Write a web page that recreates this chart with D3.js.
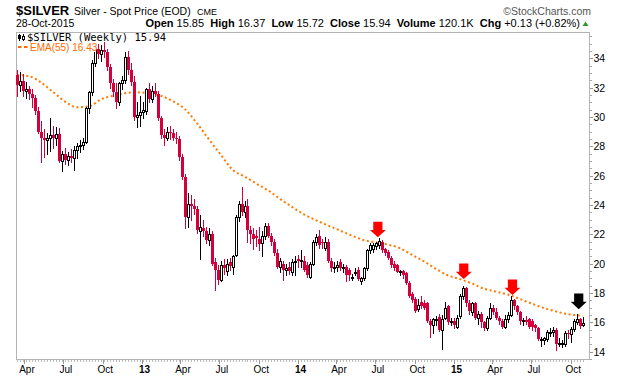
<!DOCTYPE html>
<html>
<head>
<meta charset="utf-8">
<script src="https://cdn.jsdelivr.net/npm/d3@7/dist/d3.min.js"></script>
<style>
  body { margin: 0; background: #fff; }
  svg { display: block; font-family: "Liberation Sans", Arial, sans-serif; }
  text { white-space: pre; }
</style>
</head>
<body>
<svg id="chart" width="620" height="376"></svg>
<script>
// weekly bars, one per Friday from mid-March 2012 to end of October 2015
const weeks = d3.timeFriday.range(new Date(2012, 2, 16), new Date(2015, 9, 31));

const opens = [
  32.85, 32.20, 32.45, 31.75, 31.90, 31.60, 31.30, 30.40, 29.00, 28.60,
  28.40, 28.60, 28.75, 28.60, 28.85, 27.00, 27.50, 27.10, 27.35, 27.20,
  27.75, 28.00, 28.10, 28.30, 30.60, 31.70, 33.70, 34.60, 34.30, 34.55,
  34.40, 33.40, 32.30, 31.70, 31.00, 32.30, 32.50, 34.10, 33.20, 32.40,
  30.00, 30.15, 30.35, 30.40, 31.90, 31.25, 31.80, 31.55, 29.90, 28.80,
  28.60, 29.00, 28.90, 28.60, 28.50, 27.30, 25.90, 23.20, 24.10, 23.90,
  23.70, 22.20, 22.45, 22.20, 21.60, 22.00, 20.10, 19.60, 18.90, 19.90,
  19.50, 20.10, 19.80, 20.60, 23.20, 24.10, 23.50, 23.90, 22.30, 22.00,
  21.90, 21.70, 21.40, 21.90, 22.60, 21.90, 21.50, 20.70, 19.80, 20.00,
  19.60, 19.80, 19.40, 20.10, 20.30, 20.15, 20.20, 19.90, 19.10, 20.00,
  21.50, 21.90, 21.50, 21.10, 21.50, 20.20, 19.75, 19.80, 20.10, 19.70,
  19.80, 19.60, 19.00, 19.40, 19.60, 18.80, 19.00, 19.70, 20.90, 21.00,
  21.20, 21.30, 21.50, 21.00, 20.80, 20.40, 20.00, 19.90, 19.40, 19.50,
  19.35, 18.70, 17.90, 17.60, 16.90, 17.40, 17.30, 17.30, 16.10, 15.80,
  16.20, 16.35, 15.50, 16.30, 17.10, 16.00, 16.10, 15.70, 16.40, 17.80,
  18.35, 17.30, 16.70, 17.30, 16.30, 16.60, 16.00, 15.60, 16.30, 17.00,
  16.70, 16.30, 16.10, 15.70, 16.20, 16.50, 17.50, 17.10, 16.70, 16.10,
  16.15, 16.20, 16.10, 15.80, 15.60, 14.80, 14.80, 14.85, 15.30, 15.35,
  15.50, 14.50, 14.55, 14.50, 15.30, 15.20, 15.55, 16.05, 16.20, 15.85
];
const highs = [
  33.20, 33.10, 32.90, 32.40, 32.10, 31.90, 31.50, 30.70, 29.70, 29.20,
  28.90, 29.90, 29.40, 29.30, 29.25, 27.70, 27.90, 27.60, 27.80, 28.00,
  28.20, 28.40, 28.60, 30.70, 31.80, 33.90, 34.80, 35.00, 34.90, 35.40,
  34.60, 33.60, 32.60, 32.30, 32.40, 32.80, 34.40, 34.50, 33.70, 32.80,
  31.00, 31.40, 31.00, 32.00, 32.30, 32.10, 32.30, 31.80, 30.10, 29.20,
  29.30, 29.40, 29.20, 29.00, 28.70, 27.50, 26.10, 24.80, 24.70, 24.40,
  23.90, 23.30, 23.00, 22.50, 22.40, 22.20, 20.40, 19.90, 20.20, 20.30,
  20.30, 20.40, 20.60, 23.30, 24.30, 25.20, 24.30, 24.40, 22.60, 22.40,
  22.30, 22.50, 22.20, 22.80, 22.80, 22.10, 21.70, 21.00, 20.40, 20.20,
  20.00, 20.10, 20.30, 20.50, 20.60, 20.90, 20.50, 20.10, 20.10, 21.60,
  22.00, 22.30, 21.70, 21.80, 21.70, 20.40, 20.10, 20.20, 20.30, 20.00,
  19.90, 19.70, 19.30, 19.70, 19.80, 19.10, 19.80, 21.00, 21.40, 21.40,
  21.50, 21.75, 21.60, 21.10, 20.90, 20.50, 20.20, 20.00, 19.60, 19.60,
  19.40, 18.80, 18.10, 17.70, 17.60, 17.80, 17.50, 17.40, 16.20, 16.30,
  16.40, 16.60, 16.50, 17.40, 17.20, 16.30, 16.30, 16.50, 17.90, 18.50,
  18.40, 17.50, 17.40, 17.40, 16.80, 16.70, 16.10, 16.40, 17.30, 17.20,
  17.00, 16.40, 16.20, 16.50, 16.70, 17.80, 17.60, 17.20, 16.80, 16.30,
  16.40, 16.30, 16.20, 15.90, 15.70, 15.00, 15.00, 15.50, 15.60, 15.70,
  15.60, 14.90, 14.80, 15.40, 15.50, 15.70, 16.20, 16.60, 16.30, 16.37
];
const lows = [
  31.40, 31.80, 31.40, 31.30, 31.20, 30.70, 30.20, 28.90, 26.90, 27.30,
  27.50, 27.70, 27.90, 28.10, 26.90, 26.30, 26.80, 26.70, 26.90, 26.40,
  27.20, 27.60, 27.80, 28.20, 30.30, 31.50, 33.50, 34.00, 33.80, 34.10,
  33.20, 32.00, 31.40, 30.60, 30.80, 31.90, 32.30, 32.90, 32.20, 29.80,
  29.30, 29.40, 29.90, 30.20, 31.00, 31.00, 31.40, 29.80, 28.60, 28.10,
  28.40, 28.50, 28.40, 28.20, 27.10, 25.80, 22.40, 22.50, 23.00, 23.40,
  22.10, 20.30, 21.90, 21.40, 21.30, 19.90, 18.20, 18.60, 18.80, 19.30,
  19.20, 19.60, 19.30, 20.50, 22.90, 23.30, 23.20, 21.50, 21.40, 21.00,
  21.20, 20.90, 20.50, 21.70, 21.80, 21.30, 20.60, 19.70, 19.40, 18.90,
  19.20, 19.30, 19.20, 19.20, 19.80, 19.80, 19.50, 19.10, 19.00, 19.90,
  21.30, 21.10, 21.10, 20.90, 20.10, 19.50, 19.40, 19.50, 19.60, 19.40,
  18.80, 18.90, 18.90, 19.20, 18.90, 18.60, 18.90, 19.60, 20.70, 20.80,
  21.00, 21.10, 20.80, 20.60, 20.30, 19.80, 19.60, 19.40, 19.20, 19.00,
  18.60, 17.70, 17.40, 16.70, 16.80, 17.00, 16.90, 16.00, 15.00, 15.30,
  15.80, 15.40, 14.20, 16.20, 15.90, 15.80, 15.60, 15.60, 16.30, 17.60,
  17.10, 16.60, 16.50, 16.20, 15.90, 15.70, 15.50, 15.50, 16.20, 16.60,
  16.20, 15.90, 15.60, 15.60, 16.00, 16.40, 16.90, 16.60, 15.90, 15.80,
  15.90, 15.60, 15.50, 15.40, 14.80, 14.40, 14.50, 14.70, 15.10, 15.10,
  14.10, 14.40, 14.30, 14.40, 14.90, 14.65, 15.40, 15.90, 15.60, 15.72
];
const closes = [
  32.20, 32.45, 31.75, 31.90, 31.60, 31.30, 30.40, 29.00, 28.60, 28.40,
  28.60, 28.75, 28.60, 28.85, 27.00, 27.50, 27.10, 27.35, 27.20, 27.75,
  28.00, 28.10, 28.30, 30.60, 31.70, 33.70, 34.60, 34.30, 34.55, 34.40,
  33.40, 32.30, 31.70, 31.00, 32.30, 32.50, 34.10, 33.20, 32.40, 30.00,
  30.15, 30.35, 30.50, 31.90, 31.25, 31.80, 31.55, 29.90, 28.80, 28.60,
  29.00, 28.90, 28.60, 28.50, 27.30, 25.90, 23.20, 24.10, 23.90, 23.70,
  22.30, 22.50, 22.20, 21.60, 22.00, 20.00, 19.60, 18.90, 19.90, 19.70,
  20.00, 19.85, 20.50, 23.20, 24.10, 23.50, 23.90, 22.30, 22.00, 21.70,
  21.75, 21.35, 21.90, 22.60, 21.90, 21.50, 20.70, 19.80, 20.20, 19.60,
  19.70, 19.50, 20.10, 20.20, 20.20, 20.25, 19.60, 19.20, 20.00, 21.50,
  21.80, 21.30, 21.40, 21.50, 20.20, 19.70, 19.80, 19.90, 19.70, 19.80,
  19.20, 19.20, 19.10, 19.45, 18.95, 19.00, 19.70, 20.90, 21.30, 21.25,
  21.40, 21.55, 20.90, 20.70, 20.40, 19.90, 19.70, 19.45, 19.50, 19.20,
  18.70, 17.80, 17.50, 16.80, 17.20, 17.10, 17.00, 16.10, 15.80, 16.20,
  16.25, 15.50, 16.20, 17.00, 16.00, 16.10, 15.80, 16.30, 17.80, 18.35,
  17.30, 16.80, 17.30, 16.30, 16.60, 16.00, 15.60, 16.30, 17.00, 16.70,
  16.30, 16.10, 15.70, 16.20, 16.50, 17.50, 17.10, 16.70, 16.10, 16.15,
  16.00, 15.70, 15.65, 15.60, 14.85, 14.85, 14.90, 15.35, 15.35, 15.50,
  14.50, 14.60, 14.60, 15.30, 15.25, 15.55, 16.10, 16.25, 15.75, 15.94
];

// EMA(55): [week index, value]
const emaPoints = [
  [0, 32.86], [4, 32.78], [8, 32.35], [12, 31.70], [16, 31.05], [20, 30.67],
  [24, 30.72], [28, 31.20], [32, 31.45], [36, 31.62], [40, 31.68], [44, 31.62],
  [48, 31.45], [52, 31.08], [56, 30.55], [60, 29.60], [64, 28.50], [68, 27.45],
  [72, 26.40], [76, 25.95], [80, 25.45], [84, 24.98], [88, 24.40], [92, 23.85],
  [96, 23.35], [100, 22.95], [104, 22.60], [108, 22.25], [112, 21.90], [116, 21.60],
  [120, 21.45], [124, 21.30], [128, 21.05], [132, 20.60], [136, 20.15], [140, 19.65],
  [144, 19.20], [148, 18.95], [152, 18.65], [156, 18.30], [160, 18.10], [164, 17.90],
  [168, 17.60], [172, 17.28], [176, 16.98], [180, 16.75], [184, 16.56], [188, 16.46],
  [189, 16.43]
];

// annotation arrows (tip value)
const arrowDates = ['2014-07-08', '2015-01-25', '2015-05-19', '2015-10-21'];
const arrowTips = [21.8, 18.95, 17.86, 16.9];
const arrowColors = ['#ff0000', '#ff0000', '#ff0000', '#000000'];

const priceTicks = [14, 16, 18, 20, 22, 24, 26, 28, 30, 32, 34];
const timeTickLabels = ['Apr', 'Jul', 'Oct', '13', 'Apr', 'Jul', 'Oct', '14',
                        'Apr', 'Jul', 'Oct', '15', 'Apr', 'Jul', 'Oct'];

const RED = '#d4003b';
const GRID = '#b4b4b4';
const plot = { left: 16, right: 589, top: 32, bottom: 359 };

const svg = d3.select('#chart');

const x = d3.scaleTime()
  .domain([new Date(2013, 0, 1), new Date(2015, 0, 1)])
  .range([141.5, 453.5]);
const y = d3.scaleLinear().domain([14, 34]).range([351.7, 58.3]);

// ---- header
const head = svg.append('g').attr('class', 'header');
head.append('text').attr('x', 16).attr('y', 15)
  .attr('font-size', 13).attr('font-weight', 'bold').text('$SILVER');
head.append('text').attr('x', 74).attr('y', 15)
  .attr('font-size', 10.5).text('Silver - Spot Price (EOD)');
head.append('text').attr('x', 197).attr('y', 15)
  .attr('font-size', 9).text('CME');
head.append('text').attr('x', 591).attr('y', 14.5).attr('text-anchor', 'end')
  .attr('font-size', 10.5).attr('fill', '#555').text('\u00A9StockCharts.com');
head.append('text').attr('x', 16).attr('y', 27)
  .attr('font-size', 10.5).text('28-Oct-2015');

const quote = head.append('text').attr('x', 580).attr('y', 27)
  .attr('text-anchor', 'end').attr('font-size', 11);
[['Open', true], [' 15.85  ', false], ['High', true], [' 16.37  ', false],
 ['Low', true], [' 15.72  ', false], ['Close', true], [' 15.94  ', false],
 ['Volume', true], [' 120.1K  ', false], ['Chg', true], [' +0.13 (+0.82%)', false]]
  .forEach(([t, b]) => quote.append('tspan').attr('font-weight', b ? 'bold' : null).text(t));
head.append('path').attr('d', 'M582.5,26 L588.5,26 L585.5,21.5 Z').attr('fill', '#2f9a2f');

// ---- frame + axes
const axisG = svg.append('g').attr('shape-rendering', 'crispEdges');
axisG.append('rect')
  .attr('x', plot.left + 0.5).attr('y', plot.top + 0.5)
  .attr('width', plot.right - plot.left).attr('height', plot.bottom - plot.top)
  .attr('fill', 'none').attr('stroke', GRID);

// right price axis, minor ticks every 0.5
axisG.selectAll('line.minor')
  .data(d3.range(13.5, 35.8, 0.5))
  .join('line').attr('class', 'minor')
  .attr('x1', plot.right + 0.5).attr('x2', plot.right + 2.5)
  .attr('y1', d => Math.round(y(d)) + 0.5).attr('y2', d => Math.round(y(d)) + 0.5)
  .attr('stroke', '#a8a8a8');

const yAxis = d3.axisRight(y).tickValues(priceTicks).tickSize(3).tickPadding(1);
const yAxisG = axisG.append('g')
  .attr('transform', `translate(${plot.right + 0.5},0)`)
  .call(yAxis);
yAxisG.select('.domain').remove();
yAxisG.selectAll('line').attr('stroke', '#999');
yAxisG.selectAll('text').attr('font-size', 10.5).attr('fill', '#000')
  .attr('font-family', '"Liberation Sans", Arial, sans-serif');

// bottom time axis: weekly ticks then quarterly labels
axisG.selectAll('line.wk')
  .data(weeks)
  .join('line').attr('class', 'wk')
  .attr('x1', d => Math.round(x(d)) + 0.5).attr('x2', d => Math.round(x(d)) + 0.5)
  .attr('y1', plot.bottom + 1).attr('y2', plot.bottom + 3)
  .attr('stroke', '#bbb');

const quarters = d3.timeMonth.every(3).range(new Date(2012, 3, 1), new Date(2015, 10, 1));
const xAxis = d3.axisBottom(x).tickValues(quarters).tickSize(4).tickPadding(2)
  .tickFormat((d, i) => timeTickLabels[i]);
const xAxisG = axisG.append('g')
  .attr('transform', `translate(0.5,${plot.bottom + 0.5})`)
  .call(xAxis);
xAxisG.select('.domain').remove();
xAxisG.selectAll('line').attr('stroke', '#999');
xAxisG.selectAll('text')
  .attr('font-size', 10).attr('fill', '#000').attr('dx', 2)
  .attr('font-family', '"Liberation Sans", Arial, sans-serif')
  .attr('font-weight', (d, i) => /^\d/.test(timeTickLabels[i]) ? 'bold' : null);

// ---- EMA line
const emaLine = d3.line()
  .x(d => x(weeks[d[0]]))
  .y(d => y(d[1]))
  .curve(d3.curveMonotoneX);
svg.append('path')
  .datum(emaPoints)
  .attr('d', emaLine)
  .attr('fill', 'none')
  .attr('stroke', '#ff7800')
  .attr('stroke-width', 2)
  .attr('stroke-dasharray', '2,2.6');

// ---- candles
const bars = weeks.map((d, i) => ({ date: d, o: opens[i], h: highs[i], l: lows[i], c: closes[i] }));
const candleG = svg.append('g').attr('class', 'candles').attr('shape-rendering', 'crispEdges');
const cand = candleG.selectAll('g')
  .data(bars)
  .join('g')
  .attr('transform', d => `translate(${Math.round(x(d.date))},0)`);

cand.append('line')
  .attr('x1', 0.5).attr('x2', 0.5)
  .attr('y1', d => Math.round(y(d.h)))
  .attr('y2', d => Math.round(y(d.l)) + 1)
  .attr('stroke', d => d.c >= d.o ? '#000' : RED);

cand.filter(d => d.c < d.o).append('rect')
  .attr('x', -1).attr('width', 3)
  .attr('y', d => Math.round(y(d.o)))
  .attr('height', d => Math.max(1, Math.round(y(d.c)) - Math.round(y(d.o))))
  .attr('fill', RED);

cand.filter(d => d.c >= d.o).append('rect')
  .attr('x', -0.5).attr('width', 2)
  .attr('y', d => Math.round(y(d.c)) + 0.5)
  .attr('height', d => Math.max(1, Math.round(y(d.o)) - Math.round(y(d.c))))
  .attr('fill', '#fff').attr('stroke', '#000');

// ---- arrows
const parseDay = d3.timeParse('%Y-%m-%d');
svg.append('g').selectAll('path')
  .data(arrowDates.map((d, i) => ({ date: parseDay(d), tip: arrowTips[i], color: arrowColors[i] })))
  .join('path')
  .attr('transform', d => `translate(${x(d.date)},${y(d.tip)})`)
  .attr('d', 'M0,0 L-8,-7.3 L-4.6,-7.3 L-4.6,-15.6 L4.6,-15.6 L4.6,-7.3 L8,-7.3 Z')
  .attr('fill', d => d.color);

// ---- legend, each line sits on its own white box
const leg = svg.append('g').attr('class', 'legend');
leg.append('rect').attr('x', 17).attr('y', 33).attr('width', 151).attr('height', 9).attr('fill', '#fff');
leg.append('rect').attr('x', 17).attr('y', 42).attr('width', 79).attr('height', 10).attr('fill', '#fff');
const icon = leg.append('g').attr('shape-rendering', 'crispEdges');
icon.append('line').attr('x1', 19.5).attr('x2', 19.5).attr('y1', 34).attr('y2', 41).attr('stroke', '#000');
icon.append('rect').attr('x', 18).attr('y', 35).attr('width', 3).attr('height', 4).attr('fill', '#000');
icon.append('line').attr('x1', 23.5).attr('x2', 23.5).attr('y1', 34).attr('y2', 41).attr('stroke', '#000');
icon.append('rect').attr('x', 22.5).attr('y', 36.5).attr('width', 2).attr('height', 3)
  .attr('fill', '#fff').attr('stroke', '#000');
leg.append('text').attr('x', 27).attr('y', 41)
  .attr('font-family', '"DejaVu Sans Mono", monospace').attr('font-size', 10.5)
  .text('$SILVER (Weekly) 15.94');
leg.append('line').attr('x1', 18).attr('x2', 28).attr('y1', 47).attr('y2', 47)
  .attr('stroke', '#ff6a00').attr('stroke-width', 2).attr('stroke-dasharray', '3.5,2.5');
leg.append('text').attr('x', 30).attr('y', 50.5)
  .attr('font-size', 10).attr('fill', '#ff6a00')
  .text('EMA(55) 16.43');
</script>
</body>
</html>
